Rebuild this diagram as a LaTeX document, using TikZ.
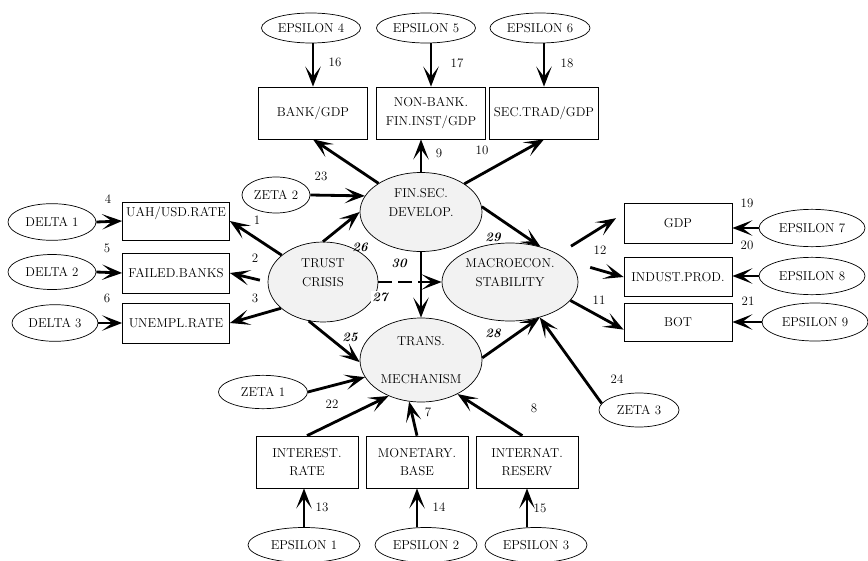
\documentclass[tikz,border=0pt]{standalone}
\usepackage{tikz}
\usetikzlibrary{arrows.meta,shapes.geometric}

\begin{document}
\begin{tikzpicture}[x=0.03cm, y=-0.03cm,
    every node/.style={font=\fontsize{11}{16}\selectfont},
    exo/.style={draw, ellipse, line width=0.6pt, fill=white, inner sep=0pt},
    lat/.style={draw, ellipse, line width=0.6pt, fill=gray!10, inner sep=0pt, align=center},
    obs/.style={draw, rectangle, line width=0.6pt, inner sep=0pt, align=center},
    num/.style={inner sep=1pt},
    coef/.style={inner sep=1pt, font=\fontsize{11}{16}\selectfont\bfseries\itshape},
    arr/.style={line width=2.4pt, -{Stealth[length=6mm, width=4.6mm, inset=3mm]}}]
  \useasboundingbox (0,0) rectangle (868,561);

  % latent
  \node[lat, minimum width=3.3cm, minimum height=2.4cm] (trust) at (323,282) {TRUST\\CRISIS\\\mbox{}};
  \node[lat, minimum width=3.66cm, minimum height=2.37cm] (fin) at (421,212) {FIN.SEC.\\DEVELOP.\\\mbox{}};
  \node[lat, minimum width=4.08cm, minimum height=2.34cm] (macro) at (510,282) {MACROECON.\\STABILITY\\\mbox{}};
  \node[lat, minimum width=3.66cm, minimum height=2.52cm] (trans) at (421,360) {TRANS.\\\mbox{}\\MECHANISM};

  % indicators
  \node[obs, minimum width=3.27cm, minimum height=1.56cm] (bank) at (313,113) {BANK/GDP};
  \node[obs, minimum width=3.27cm, minimum height=1.56cm] (nbank) at (431,113) {NON-BANK.\\FIN.INST/GDP};
  \node[obs, minimum width=3.27cm, minimum height=1.56cm] (sectr) at (544,113) {SEC.TRAD/GDP};
  \node[obs, minimum width=3.21cm, minimum height=1.14cm] (uah) at (176,221) {UAH/USD.RATE\\\mbox{}};
  \node[obs, minimum width=3.21cm, minimum height=1.2cm] (fail) at (176,273) {FAILED.BANKS};
  \node[obs, minimum width=3.21cm, minimum height=1.2cm] (unemp) at (176,323) {UNEMPL.RATE};
  \node[obs, minimum width=3.24cm, minimum height=1.2cm] (gdp) at (678,223) {GDP};
  \node[obs, minimum width=3.24cm, minimum height=1.17cm] (ind) at (678,277) {INDUST.PROD.};
  \node[obs, minimum width=3.24cm, minimum height=1.14cm] (bot) at (678,322) {BOT};
  \node[obs, minimum width=3.06cm, minimum height=1.56cm] (intr) at (307,462) {INTEREST.\\RATE};
  \node[obs, minimum width=3.06cm, minimum height=1.56cm] (mbase) at (417,462) {MONETARY.\\BASE};
  \node[obs, minimum width=3.06cm, minimum height=1.56cm] (resv) at (527,462) {INTERNAT.\\RESERV};

  % errors
  \node[exo, minimum width=2.97cm, minimum height=0.9cm] (eps4) at (311,28) {EPSILON 4};
  \node[exo, minimum width=2.97cm, minimum height=0.9cm] (eps5) at (426,28) {EPSILON 5};
  \node[exo, minimum width=3cm, minimum height=0.9cm] (eps6) at (540,28) {EPSILON 6};
  \node[exo, minimum width=2.64cm, minimum height=1.1cm] (del1) at (52,222) {DELTA 1};
  \node[exo, minimum width=2.64cm, minimum height=1.05cm] (del2) at (52,272) {DELTA 2};
  \node[exo, minimum width=2.58cm, minimum height=1.1cm] (del3) at (55,323) {DELTA 3};
  \node[exo, minimum width=2.04cm, minimum height=1.08cm] (zeta2) at (276,195) {ZETA 2};
  \node[exo, minimum width=2.67cm, minimum height=1cm] (zeta1) at (263,392) {ZETA 1};
  \node[exo, minimum width=2.4cm, minimum height=1.02cm] (zeta3) at (639,410) {ZETA 3};
  \node[exo, minimum width=3.18cm, minimum height=1.12cm] (eps7) at (812,228) {EPSILON 7};
  \node[exo, minimum width=3.18cm, minimum height=1.12cm] (eps8) at (812,276) {EPSILON 8};
  \node[exo, minimum width=3.18cm, minimum height=1.14cm] (eps9) at (815,322) {EPSILON 9};
  \node[exo, minimum width=3.36cm, minimum height=1.05cm] (eps1) at (304,545) {EPSILON 1};
  \node[exo, minimum width=3.06cm, minimum height=1.05cm] (eps2) at (426,545) {EPSILON 2};
  \node[exo, minimum width=3.06cm, minimum height=1.05cm] (eps3) at (536,545) {EPSILON 3};

  \draw[arr] (bank.north |- eps4.south) -- (bank.north);
  \draw[arr] (nbank.north |- eps5.south) -- (nbank.north);
  \draw[arr] (sectr.north |- eps6.south) -- (sectr.north);
  \draw[arr] (fin.146) -- (bank.south);
  \draw[arr] (fin.north) -- (fin.north |- nbank.south);
  \draw[arr] (fin.33) -- (sectr.south);
  \draw[arr] (zeta2.east) -- (fin.164);

  \draw[arr] (del1.east) -- (uah.west);
  \draw[arr] (del2.east) -- (fail.west);
  \draw[arr] (del3.east) -- (unemp.west);
  \draw[arr] (trust.147) -- (uah.east);
  \draw[arr, shorten <=0.24cm] (trust.west) -- (fail.east);
  \draw[arr] (trust.212) -- (unemp.east);

  \draw[arr] (trust.north) -- (fin.west);
  \draw[arr] (fin.south) -- (trans.north);
  \draw[arr, dashed, dash pattern=on 4.2mm off 1.8mm] (trust.east) -- (macro.west);
  \draw[arr] (fin.5) -- (macro.49);
  \draw[arr] (trust.250) -- (trans.182);

  \draw[arr, shorten <=0.45cm, shorten >=0.27cm] (macro.30) -- (gdp.170);
  \draw[arr, shorten <=0.7cm] (macro.20) -- (ind.west);
  \draw[arr] (macro.343) -- (bot.188);
  \draw[arr] (eps7.west) -- (eps7.west -| gdp.east);
  \draw[arr] (eps8.west) -- (eps8.west -| ind.east);
  \draw[arr] (eps9.west) -- (eps9.west -| bot.east);

  \draw[arr] (zeta1.east) -- (trans.197);
  \draw[arr] (intr.north) -- (trans.228);
  \draw[arr] (mbase.north) -- (trans.254);
  \draw[arr] (resv.100) -- (trans.317);
  \draw[arr] (trans.2) -- (macro.310);
  \draw[arr] (zeta3.170) -- (macro.310);
  \draw[arr] (eps1.north) -- (eps1.north |- intr.south);
  \draw[arr] (mbase.south |- eps2.north) -- (mbase.south);
  \draw[arr] (resv.south |- eps3.north) -- (resv.south);

  % loadings
  \node[num] (n1) at (257,220) {1};
  \node[num] (n2) at (255,258) {2};
  \node[num] (n3) at (255,298) {3};
  \node[num] (n4) at (108,199) {4};
  \node[num] (n5) at (107,248) {5};
  \node[num] (n6) at (107,298) {6};
  \node[num] (n7) at (428,412) {7};
  \node[num] (n8) at (534,408) {8};
  \node[num] (n9) at (439,153) {9};
  \node[num] (n10) at (482,150) {10};
  \node[num] (n11) at (599,300) {11};
  \node[num] (n12) at (600,250) {12};
  \node[num] (n13) at (322,507) {13};
  \node[num] (n14) at (439,507) {14};
  \node[num] (n15) at (540,508) {15};
  \node[num] (n16) at (335,62) {16};
  \node[num] (n17) at (457,63) {17};
  \node[num] (n18) at (567,63) {18};
  \node[num] (n19) at (747,203) {19};
  \node[num] (n20) at (747,245) {20};
  \node[num] (n21) at (748,301) {21};
  \node[num] (n22) at (332,404) {22};
  \node[num] (n23) at (321,176) {23};
  \node[num] (n24) at (617,379) {24};

  \node[coef] (n25) at (350,337) {25};
  \node[coef] (n26) at (360,247) {26};
  \node[coef, fill=white] (n27) at (380,297) {27};
  \node[coef] (n28) at (493,333) {28};
  \node[coef] (n29) at (493,237) {29};
  \node[coef] (n30) at (399,263) {30};
\end{tikzpicture}
\end{document}
